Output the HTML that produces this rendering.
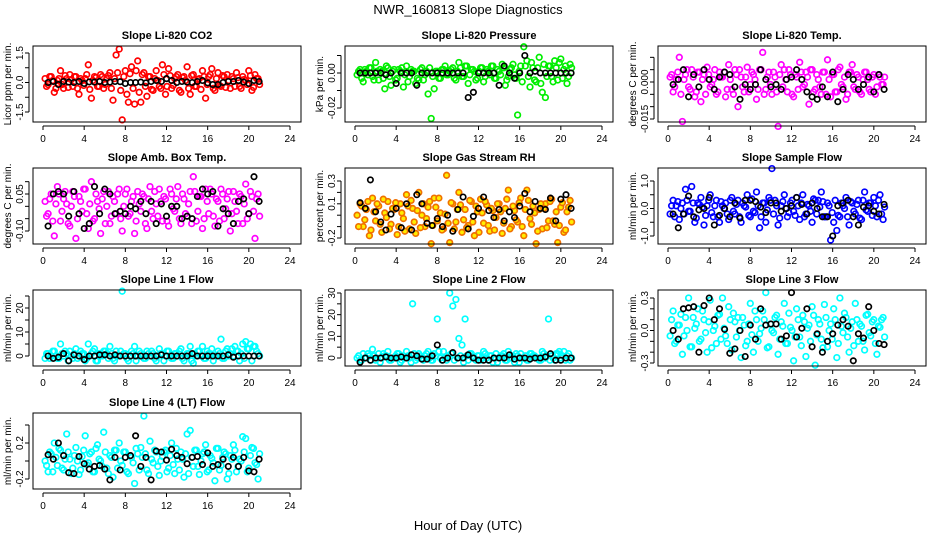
<!DOCTYPE html>
<html><head><meta charset="utf-8"><style>
body{margin:0;background:#fff}
svg{display:block;font-family:"Liberation Sans",Arial,sans-serif}
</style></head><body>
<svg id="chart" width="936" height="540" viewBox="0 0 936 540" xmlns="http://www.w3.org/2000/svg">
<text x="468" y="14" text-anchor="middle" font-size="13">NWR_160813  Slope Diagnostics</text>
<text x="468" y="530" text-anchor="middle" font-size="13">Hour of Day (UTC)</text>
</svg>
<script>
const xTicks=[0,4,8,12,16,20,24];
const co2C=[0.2,-0.1,0.3,-0.5,0.1,0.6,-0.3,0.2,0.4,-0.2,0.3,-0.6,0.1,0.2,0.9,-0.8,0.3,-0.2,0.4,-0.3,0.2,0.5,-0.9,1.4,1.7,-1.9,0.6,-1.0,0.8,-1.1,1.1,-1.0,0.5,-0.7,0.3,-0.4,0.6,-0.2,0.9,-0.6,0.7,-0.3,0.2,0.4,-0.5,0.3,0.8,-0.6,0.4,-0.2,0.2,0.6,-0.8,0.3,0.7,-0.4,0.5,-0.2,0.3,0.4,-0.3,0.2,0.5,-0.2,0.3,0.1,0.6,-0.4,0.4,0.2];
const co2B=[-0.2,0.3,0.1,-0.3,0.2,-0.1,0.35,-0.25,0.15,0.3,-0.3,0.2,-0.15,0.4,-0.35,0.1,0.25,-0.2,0.3,-0.1,0.35,-0.3,0.2,0.5,-0.4,0.3,-0.6,0.45,-0.3,0.6,-0.5,0.4,-0.2,0.3,-0.35,0.2,0.1,-0.3,0.4,-0.2,0.35,-0.15,0.3,-0.4,0.25,0.1,-0.3,0.35,-0.2,0.15,-0.35,0.3,-0.1,0.4,-0.3,0.2,-0.15,0.35,-0.25,0.1,0.3,-0.2,0.25,-0.3,0.15,-0.1,0.35,-0.25,0.2,-0.1];
const co2K=[0,0.05,-0.1,0.05,0.02,0,0.05,-0.05,0.03,0.02,0.05,0,0.02,0.05,0.04,-0.05,0,0,0.02,-0.02,0.05,0.1,0.05,0.2,0.1,0,0.05,0.02,0,0.05,0.1,-0.02,-0.1,-0.1,0,0.05,0.05,0.1,0.02,-0.05,0.1,0.05];
const presC=[-0.001,0.002,-0.005,0.001,0.003,-0.002,0.006,-0.004,0.001,-0.009,0.003,-0.007,0.002,-0.003,0.001,-0.008,0.004,-0.002,0.001,-0.006,-0.004,0.003,-0.001,-0.012,-0.026,-0.009,0.001,-0.003,0.002,-0.001,0.001,0.003,-0.004,0.006,-0.002,0.004,-0.006,0.002,0.001,-0.003,0.003,-0.005,0.002,-0.001,0.004,-0.003,0.001,0.005,-0.007,-0.002,0.003,-0.001,-0.024,0.004,0.015,0.007,-0.008,0.003,-0.005,0.009,-0.011,-0.014,0.004,-0.002,0.007,-0.004,0.008,0.002,-0.006,0.005];
const presB=[0.001,-0.003,0.002,-0.001,0.003,-0.004,0.001,0.002,-0.003,0.004,-0.002,0.001,-0.004,0.002,0.003,-0.001,-0.005,0.002,0.001,-0.003,0.002,-0.004,0.001,0.003,-0.002,0.001,-0.003,0.002,0.004,-0.001,0.002,-0.003,0.001,0.003,-0.002,0.004,-0.001,0.002,-0.004,0.001,0.003,-0.002,0.001,0.004,-0.003,0.002,-0.001,0.003,-0.004,0.002,0.005,-0.003,0.001,-0.005,0.004,-0.002,0.006,-0.004,0.003,-0.006,0.005,-0.002,0.004,-0.005,0.003,0.006,-0.003,0.004,-0.002,0.003];
const presK=[0,0,0,0,0,-0.001,0,-0.006,0,0,0,-0.007,0,0,0,0,0,0,0,0,0,-0.014,-0.011,0,0,0,0,-0.007,0.004,0,-0.003,0,0.01,0,0.001,0,0,0,0,0,0,0];
const ltC=[0.002,-0.004,0.001,0.010,-0.016,0.003,-0.002,0.005,-0.006,0.004,-0.008,0.003,0.006,-0.002,0.001,-0.005,0.004,0.002,-0.006,0.007,-0.003,0.005,-0.010,0.002,-0.004,0.006,-0.001,0.003,-0.007,0.005,0.012,-0.003,0.004,-0.005,0.002,-0.018,0.007,0.005,-0.004,0.003,-0.006,0.002,0.008,-0.002,0.004,-0.009,0.005,-0.003,0.001,-0.005,0.004,0.009,-0.006,0.003,-0.004,0.006,-0.002,-0.007,0.004,0.007,-0.003,0.002,-0.005,0.004,0.001,-0.004,0.003,-0.002,0.002,-0.001];
const ltB=[0.003,-0.002,0.004,-0.005,0.001,0.005,-0.003,0.002,-0.004,0.004,0.001,-0.005,0.003,-0.001,0.005,-0.004,0.002,0.004,-0.003,0.001,-0.005,0.003,0.005,-0.002,0.002,-0.004,0.004,0.001,-0.003,0.005,-0.005,0.002,-0.001,0.004,-0.004,0.003,-0.002,0.001,0.005,-0.005,0.003,-0.003,0.004,-0.001,0.002,0.005,-0.004,0.003,-0.002,0.004,-0.005,0.001,0.003,-0.004,0.005,-0.001,0.002,-0.005,0.004,-0.002,0.003,-0.004,0.001,0.004,-0.003,0.002,-0.005,0.003,-0.001,0.002];
const ltK=[-0.001,0.001,0.005,-0.006,0.003,-0.002,0.005,0.001,-0.003,0.002,0.004,0.003,-0.002,-0.007,-0.001,-0.003,-0.001,0.005,0.001,-0.002,-0.001,-0.003,0.001,0.002,0.005,0.001,-0.004,-0.006,-0.007,-0.002,-0.006,0.004,-0.008,-0.003,0.003,0.001,-0.003,-0.001,0.002,-0.004,0.003,-0.003];
const abC=[0.02,-0.03,0.05,-0.12,0.08,-0.06,0.03,0.01,-0.08,0.06,-0.13,0.04,-0.02,0.07,-0.09,0.10,-0.05,0.02,-0.11,0.06,0.00,-0.07,0.04,-0.03,0.07,-0.10,0.05,-0.04,0.02,-0.11,0.06,-0.02,0.04,-0.09,0.08,-0.05,0.01,0.07,-0.06,0.03,-0.08,0.05,-0.02,0.08,-0.07,0.03,-0.04,0.06,0.12,-0.06,0.04,-0.09,0.07,-0.03,0.05,-0.08,0.02,0.07,-0.05,0.03,-0.10,0.06,-0.02,0.05,-0.07,0.09,-0.03,0.04,-0.13,0.05];
const abB=[-0.04,0.03,-0.06,0.01,0.05,-0.02,0.06,-0.07,0.0,0.04,-0.05,0.02,0.07,-0.03,0.01,-0.06,0.05,-0.01,0.03,-0.07,0.06,-0.04,0.02,0.05,-0.05,0.0,0.07,-0.03,0.04,-0.06,0.01,0.05,-0.07,0.03,-0.02,0.06,-0.04,0.02,0.04,-0.06,0.07,-0.01,0.03,-0.05,0.05,-0.03,0.01,-0.07,0.06,-0.02,0.04,-0.05,0.02,0.07,-0.04,0.03,-0.06,0.05,-0.01,0.06,-0.03,0.02,-0.07,0.04,0.01,-0.05,0.06,-0.02,0.03,-0.04];
const abK=[-0.08,0.05,0.06,0.05,-0.04,0.06,-0.03,-0.09,-0.07,0.08,-0.03,0.07,0.05,-0.03,-0.02,-0.03,0.0,-0.01,0.02,-0.03,0.02,-0.07,0.01,-0.04,0.0,0.0,-0.05,-0.04,-0.05,0.04,0.07,0.05,0.06,-0.08,-0.01,-0.03,-0.07,0.02,0.03,-0.03,0.12,0.02];
const rhC=[0.0,0.1,-0.1,0.05,-0.18,0.15,-0.05,0.08,-0.15,0.02,0.12,-0.08,0.05,-0.17,0.1,-0.03,0.18,-0.12,0.06,-0.16,0.2,0.0,-0.1,0.07,-0.25,0.15,-0.05,0.02,-0.12,0.35,-0.24,0.1,-0.06,0.2,-0.15,0.05,-0.09,0.12,-0.18,0.03,0.14,-0.07,0.09,-0.14,0.04,-0.02,0.1,-0.16,0.06,0.22,-0.1,0.04,-0.06,0.15,-0.18,0.22,-0.03,0.08,-0.25,0.05,-0.12,0.1,-0.05,0.14,-0.08,-0.24,0.07,-0.15,0.03,0.13];
const rhB=[-0.1,0.08,-0.04,0.12,-0.13,0.03,0.1,-0.08,0.14,-0.02,-0.12,0.06,0.11,-0.1,0.02,-0.14,0.08,0.13,-0.06,0.04,-0.11,0.1,-0.03,0.12,-0.09,0.07,0.15,-0.13,0.01,-0.07,0.11,-0.12,0.05,0.09,-0.04,-0.11,0.13,-0.06,0.08,-0.15,0.02,0.12,-0.09,0.06,-0.13,0.1,0.03,-0.07,0.14,-0.12,0.08,-0.04,0.11,-0.1,0.05,0.13,-0.08,0.02,-0.14,0.1,0.06,-0.11,0.12,-0.05,0.03,-0.09,0.11,-0.13,0.07,-0.06];
const rhK=[0.11,0.06,0.31,0.03,-0.06,-0.13,0.01,0.06,-0.11,0.10,-0.13,0.18,0.10,-0.07,-0.09,-0.03,-0.1,0.0,-0.14,0.05,0.16,-0.12,-0.01,0.06,0.16,0.04,-0.02,0.05,-0.05,0.03,-0.02,0.08,0.19,0.03,0.12,0.06,0.05,0.15,-0.05,0.14,0.18,0.06];
const sfC=[-0.2,0.3,0.1,-0.4,0.2,0.7,-0.1,0.8,-0.5,0.2,0.4,-0.6,0.1,0.5,-0.3,0.3,-0.5,0.1,0.2,-0.4,0.4,-0.2,0.3,-0.5,0.1,0.5,-0.3,-0.1,0.6,-0.7,0.2,-0.5,0.4,1.45,0.3,-0.6,0.1,0.5,-0.3,0.2,-0.1,0.4,-0.4,0.5,-0.2,0.1,-0.5,0.3,0.3,0.6,-0.3,0.2,-1.15,-0.5,-0.8,-0.3,0.1,0.4,-0.6,0.2,-0.2,0.3,-0.4,0.6,-0.1,0.2,0.4,-0.3,0.5,-0.4];
const sfB=[0.1,-0.3,0.25,0.0,-0.2,0.3,-0.1,0.2,-0.35,0.15,0.05,-0.25,0.3,-0.15,0.1,-0.3,0.25,0.0,-0.2,0.3,-0.1,0.15,-0.3,0.2,0.05,-0.25,0.35,-0.15,0.1,-0.3,0.2,-0.05,0.3,-0.2,0.1,-0.35,0.25,0.0,-0.15,0.3,-0.25,0.1,0.2,-0.3,0.15,-0.1,0.35,-0.2,0.05,0.25,-0.3,0.1,-0.15,0.3,-0.25,0.2,0.0,-0.3,0.25,-0.1,0.15,-0.35,0.3,-0.05,0.2,-0.25,0.1,0.3,-0.2,0.05];
const sfK=[-0.2,-0.7,-0.2,0.45,-0.3,-0.05,0.0,0.4,-0.6,-0.25,0.0,-0.3,0.2,-0.35,0.3,0.3,0.25,0.05,-0.15,0.2,0.2,-0.1,0.0,0.1,0.4,0.15,-0.2,0.2,0.0,-0.3,-0.3,-1.0,0.1,0.2,0.3,-0.3,-0.6,0.05,0.1,-0.1,-0.2,0.15];
const l1C=[-1,1,0,2,-1,5,0,1,2,-1,3,0,1,-2,5,1,3,-2,0,2,1,4,-1,2,0,27,1,-2,2,4,0,1,-1,2,0,1,-2,3,1,0,2,-1,1,0,3,-2,1,4,-3,0,2,4,-1,1,3,0,2,7,-1,3,1,0,2,-2,5,6,3,-2,4,1];
const l1B=[1,-1,2,0,-1,1,2,-2,0,1,-1,2,1,-1,0,2,-2,1,0,2,-1,1,-2,0,2,1,-1,0,1,-2,2,0,-1,1,2,-1,0,1,-2,2,0,-1,1,2,-1,0,1,-2,1,2,0,-1,2,1,-2,0,1,-1,2,0,3,4,2,1,-1,3,5,4,2,0];
const l1K=[0,-1,-0.5,1,-2,0.5,0,-1.5,0,0,0.5,0.5,0,0.5,0,0,0,0,0,0,0,0,0.5,0,0,0,0,0,1,0,0,0,0,0,0,0.5,-0.5,0,0,0,0,0];
const l2C=[0,-1,2,0,1,4,-1,2,0,1,3,-1,0,2,-2,1,3,0,25,-1,2,0,1,3,-1,2,18,0,3,-1,30,24,27,9,6,18,-1,2,0,1,-1,3,0,1,-2,2,0,1,-1,3,0,-2,1,2,0,-1,2,1,0,-1,3,0,18,1,-1,2,0,3,1,-1];
const l2B=[1,-1,0,2,-1,1,0,-2,2,1,-1,0,1,2,-1,0,1,-2,2,0,1,-1,2,0,-1,1,3,-1,0,1,2,-1,0,1,-2,1,2,0,-1,1,0,2,-1,1,0,-2,1,2,-1,0,1,2,-2,0,1,-1,2,1,0,-1,2,1,-1,0,2,3,1,-1,2,0];
const l2K=[-2,0,-1,0,0,0.5,0,0,0.5,0,1.5,1,-0.5,-0.5,1,6,-1,0,2.5,0,0,1.5,0,-1,-1,-1,0,0,0,1.5,-0.5,0,0,-0.5,0,0,0.5,2,-1,-1,0,0];
const l3C=[-0.05,0.18,-0.1,0.05,-0.22,0.12,0.3,-0.15,0.02,0.2,-0.08,0.1,-0.2,0.28,0.0,-0.12,0.15,0.3,-0.05,0.22,-0.18,0.08,0.12,-0.25,0.05,-0.1,0.25,-0.2,0.1,-0.03,0.18,0.35,-0.15,0.0,0.12,-0.22,0.08,0.25,-0.12,0.03,-0.28,0.2,-0.06,0.14,-0.24,0.05,0.22,-0.32,0.1,-0.08,0.24,-0.15,0.06,0.2,-0.25,0.3,-0.02,0.12,-0.2,0.08,0.25,-0.1,0.04,-0.18,0.15,-0.05,0.1,-0.22,0.03,0.12];
const l3B=[0.1,-0.12,0.05,0.15,-0.05,0.0,-0.15,0.12,0.06,-0.1,0.18,-0.02,0.08,-0.16,0.04,0.14,-0.08,0.02,-0.12,0.1,0.16,-0.06,0.0,0.12,-0.14,0.06,-0.04,0.18,-0.1,0.02,0.1,-0.16,0.06,-0.02,0.14,-0.08,0.04,-0.12,0.16,0.0,-0.06,0.1,-0.14,0.08,0.02,-0.1,0.14,-0.04,0.06,-0.16,0.12,0.0,-0.08,0.1,-0.12,0.04,0.16,-0.06,0.02,-0.14,0.1,0.06,-0.1,0.14,-0.02,0.08,-0.12,0.04,0.1,-0.06];
const l3K=[0.0,-0.08,0.2,0.21,0.22,-0.2,0.23,0.3,0.1,0.2,0.01,-0.21,-0.17,0.0,-0.24,0.05,-0.08,0.2,0.05,0.06,0.06,-0.08,-0.05,0.35,-0.06,0.02,0.2,-0.15,-0.03,-0.2,-0.1,-0.03,0.05,0.1,0.04,-0.28,-0.03,-0.07,0.22,0.0,-0.12,-0.13];
const l4C=[0.0,-0.12,0.08,0.2,-0.05,0.12,-0.1,0.3,0.02,-0.08,0.15,-0.15,0.05,0.28,-0.02,0.1,-0.12,0.18,0.0,0.32,-0.08,0.06,-0.18,0.12,0.2,-0.05,0.1,-0.14,0.04,-0.25,0.08,0.15,0.5,-0.1,0.22,-0.02,0.1,-0.16,0.05,0.12,-0.08,0.2,-0.14,0.02,0.1,-0.18,0.3,0.34,-0.06,0.12,-0.15,0.08,0.18,-0.1,0.03,-0.22,0.14,-0.05,0.1,-0.2,0.06,0.18,-0.12,0.02,0.27,0.25,-0.08,0.15,-0.02,-0.2];
const l4B=[-0.05,0.1,-0.12,0.04,0.14,-0.08,0.02,0.1,-0.14,0.06,0.0,-0.1,0.12,-0.04,0.08,-0.12,0.14,0.02,-0.06,0.1,-0.14,0.04,0.12,-0.08,0.0,0.1,-0.12,0.06,-0.02,0.14,-0.1,0.04,0.08,-0.14,0.02,0.12,-0.06,0.0,0.1,-0.12,0.06,-0.04,0.14,-0.1,0.02,0.08,-0.14,0.04,0.12,-0.06,0.0,0.1,-0.12,0.06,-0.02,0.14,-0.1,0.04,0.08,-0.14,0.02,0.12,-0.06,0.0,0.1,-0.12,0.06,0.14,-0.04,0.08];
const l4K=[0.07,0.02,0.2,0.06,-0.13,-0.14,0.05,-0.03,-0.09,-0.06,-0.05,-0.09,-0.21,0.04,-0.10,0.04,0.06,0.28,-0.06,0.04,-0.21,0.11,0.1,0.01,0.13,0.06,0.04,-0.03,0.04,0.05,-0.04,0.09,-0.06,-0.04,0.02,-0.06,0.04,-0.06,0.04,-0.11,-0.12,0.02];

const panels=[
 {n:'co2',title:'Slope Li-820 CO2',yl:'Licor ppm per min.',col:0,row:0,color:'#ff0000',c:co2C,d:co2B,k:co2K,a:[1.5,7],b:[-1.5,66],ticks:[-1.5,-0.75,0,0.75,1.5],labels:[[-1.5,'-1.5'],[0,'0.0'],[1.5,'1.5']]},
 {n:'pressure',title:'Slope Li-820 Pressure',yl:'kPa per min.',col:1,row:0,color:'#00ee00',c:presC,d:presB,k:presK,a:[0,27],b:[-0.02,62],ticks:[-0.02,-0.01,0,0.01],labels:[[-0.02,'-0.02'],[0,'0.00']]},
 {n:'li-temp',title:'Slope Li-820 Temp.',yl:'degrees C per min.',col:2,row:0,color:'#ff00ff',c:ltC,d:ltB,k:ltK,a:[0,36],b:[-0.015,73],ticks:[-0.015,-0.01,-0.005,0,0.005,0.01],labels:[[-0.015,'-0.015'],[0,'0.000']]},
 {n:'amb-box-temp',title:'Slope Amb. Box Temp.',yl:'degrees C per min.',col:0,row:1,color:'#ff00ff',c:abC,d:abB,k:abK,a:[0.05,26],b:[-0.10,63],ticks:[-0.1,-0.05,0,0.05,0.1],labels:[[-0.1,'-0.10'],[0.05,'0.05']]},
 {n:'gas-rh',title:'Slope Gas Stream RH',yl:'percent per min.',col:1,row:1,color:'#f07000',fill:'#ffee00',c:rhC,d:rhB,k:rhK,a:[0.3,13],b:[-0.2,70],ticks:[-0.2,-0.1,0,0.1,0.2,0.3],labels:[[-0.2,'-0.2'],[0.1,'0.1'],[0.3,'0.3']]},
 {n:'sample-flow',title:'Slope Sample Flow',yl:'ml/min per min.',col:2,row:1,color:'#0000ff',c:sfC,d:sfB,k:sfK,a:[1,13],b:[-1,68],ticks:[-1,-0.5,0,0.5,1],labels:[[-1,'-1.0'],[0,'0.0'],[1,'1.0']]},
 {n:'line1-flow',title:'Slope Line 1 Flow',yl:'ml/min per min.',col:0,row:2,color:'#00ffff',c:l1C,d:l1B,k:l1K,a:[20,18],b:[0,66],ticks:[0,5,10,15,20,25],labels:[[0,'0'],[10,'10'],[20,'20']]},
 {n:'line2-flow',title:'Slope Line 2 Flow',yl:'ml/min per min.',col:1,row:2,color:'#00ffff',c:l2C,d:l2B,k:l2K,a:[30,3],b:[0,68],ticks:[0,5,10,15,20,25,30],labels:[[0,'0'],[10,'10'],[20,'20'],[30,'30']]},
 {n:'line3-flow',title:'Slope Line 3 Flow',yl:'ml/min per min.',col:2,row:2,color:'#00ffff',c:l3C,d:l3B,k:l3K,a:[0.3,8],b:[-0.3,73],ticks:[-0.3,-0.2,-0.1,0,0.1,0.2,0.3],labels:[[-0.3,'-0.3'],[0,'0.0'],[0.3,'0.3']]},
 {n:'line4-flow',title:'Slope Line 4 (LT) Flow',yl:'ml/min per min.',col:0,row:3,color:'#00ffff',c:l4C,d:l4B,k:l4K,a:[0.2,30],b:[-0.2,66],ticks:[-0.2,0,0.2,0.4],labels:[[-0.2,'-0.2'],[0.2,'0.2']]}
];
const NS='http://www.w3.org/2000/svg';
const svg=document.getElementById('chart');
const colX0=[43,355,668], rowTop=[46,168,290,413], BH=76;
function mk(tag,attrs,parent){const e=document.createElementNS(NS,tag);for(const k in attrs)e.setAttribute(k,attrs[k]);parent.appendChild(e);return e;}
panels.forEach(p=>{
 const x0=colX0[p.col], top=rowTop[p.row], bot=top+BH, left=x0-10, right=x0+258;
 const xs=v=>x0+v*(247/24);
 const ys=v=>top+p.a[1]+(v-p.a[0])*(p.b[1]-p.a[1])/(p.b[0]-p.a[0]);
 const g=mk('g',{},svg);
 
 
 const t=mk('text',{x:(left+right)/2,y:top-7,'text-anchor':'middle','font-size':'11','font-weight':'bold'},g);
 t.textContent=p.title;
 
 
 const yt=mk('text',{x:0,y:0,'text-anchor':'middle','font-size':'10',transform:`translate(${left-22},${(top+bot)/2}) rotate(-90)`},g);
 yt.textContent=p.yl;
 
 
 const pts=mk('g',{fill:p.fill||'none',stroke:p.color,'stroke-width':'1.7'},g);
 
 
 p.c.forEach((v,i)=>{const c=mk('circle',{cx:xs(0.2+0.3*i).toFixed(1),cy:ys(v).toFixed(1),r:2.8},pts);
  
  });
 p.d.forEach((v,i)=>{const c=mk('circle',{cx:xs(0.35+0.3*i).toFixed(1),cy:ys(v).toFixed(1),r:2.8},pts);
  
  });
 const kp=mk('g',{fill:'none',stroke:'#000','stroke-width':'1.7'},g);
 
 
 p.k.forEach((v,i)=>{const c=mk('circle',{cx:xs(0.5+0.5*i).toFixed(1),cy:ys(v).toFixed(1),r:2.7},kp);
  
  });
 const box=mk('rect',{x:left,y:top,width:right-left,height:BH,fill:'none',stroke:'#000','stroke-width':'1'},g);
 
 
 const ax=mk('g',{stroke:'#000','stroke-width':'1'},g);
 
 
 mk('line',{x1:xs(0),x2:xs(24),y1:bot+4,y2:bot+4},ax);
 xTicks.forEach(v=>{mk('line',{x1:xs(v),x2:xs(v),y1:bot+4,y2:bot+8},ax);
  const l=mk('text',{x:xs(v),y:bot+20,'text-anchor':'middle','font-size':'10',stroke:'none',fill:'#000'},g);
  l.textContent=v;
  
  });
 const ay=mk('g',{stroke:'#000','stroke-width':'1'},g);
 
 
 const tv=p.ticks.map(ys);
 mk('line',{x1:left-4,x2:left-4,y1:Math.min(...tv),y2:Math.max(...tv)},ay);
 p.ticks.forEach(v=>mk('line',{x1:left-4,x2:left-8,y1:ys(v),y2:ys(v)},ay));
 p.labels.forEach(([v,s])=>{const l=mk('text',{x:0,y:0,'text-anchor':'middle','font-size':'10',transform:`translate(${left-10},${ys(v)}) rotate(-90)`},g);
  l.textContent=s;
  
  });
});
</script>
</body></html>
